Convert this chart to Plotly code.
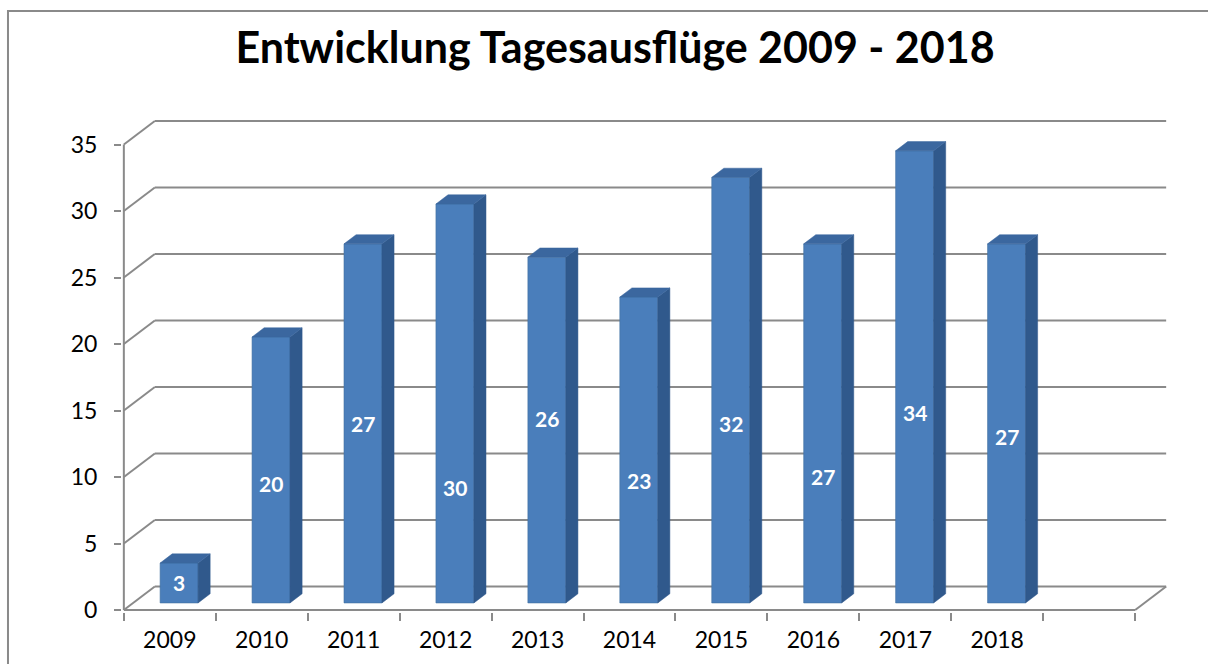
import plotly.graph_objects as go

# ---- data ----
categories = ["2009", "2010", "2011", "2012", "2013", "2014", "2015", "2016", "2017", "2018", ""]
values = [3, 20, 27, 30, 26, 23, 32, 27, 34, 27, None]
# vertical position (in value units above the bar base) where the data labels sit
label_heights = [1.5, 9.0, 13.5, 8.7, 13.9, 9.2, 13.5, 9.5, 14.3, 12.5]
y_ticks = [0, 5, 10, 15, 20, 25, 30, 35]
title_text = "Entwicklung Tagesausflüge 2009 - 2018"

# ---- 3D geometry / style ----
DX = 0.337          # depth offset along x (category units)
DY = 1.77           # depth offset along y (value units)
F1, F2 = 0.30, 0.69  # bar front / back depth fraction
BAR_W = 0.413
GRID = "#8a8a8a"
FRONT = "#4a7ebb"
SIDE = "#30598c"
TOP = "#3b679f"
FONT = "Lato"

n = len(categories)
x_left, x_right = -0.5, n - 0.5
ymax = max(y_ticks)

fig = go.Figure()
shapes = []

# back-wall gridlines with the diagonal "wall" segment
for v in y_ticks:
    shapes.append(dict(type="line", xref="x", yref="y", layer="below",
                       x0=x_left, y0=v, x1=x_left + DX, y1=v + DY,
                       line=dict(color=GRID, width=2)))
    shapes.append(dict(type="line", xref="x", yref="y", layer="below",
                       x0=x_left + DX, y0=v + DY, x1=x_right + DX, y1=v + DY,
                       line=dict(color=GRID, width=2)))
# floor: front edge and right edge
shapes.append(dict(type="line", xref="x", yref="y", layer="below",
                   x0=x_left, y0=0, x1=x_right, y1=0, line=dict(color=GRID, width=2)))
shapes.append(dict(type="line", xref="x", yref="y", layer="below",
                   x0=x_right, y0=0, x1=x_right + DX, y1=DY, line=dict(color=GRID, width=2)))
# front vertical value axis
shapes.append(dict(type="line", xref="x", yref="y", layer="below",
                   x0=x_left, y0=0, x1=x_left, y1=ymax, line=dict(color=GRID, width=2)))
# chart border
shapes.append(dict(type="rect", xref="paper", yref="paper", layer="below",
                   x0=-0.109, y0=-0.3, x1=1.2, y1=1.219,
                   line=dict(color="#8a8a8a", width=2), fillcolor="rgba(0,0,0,0)"))

# side and top faces of the bars
side_x, side_y, top_x, top_y = [], [], [], []
xs, ys = [], []
for i, v in enumerate(values):
    if v is None:
        continue
    xs.append(i)
    ys.append(v)
    xl = i - BAR_W / 2
    xr = i + BAR_W / 2
    side_x += [xr + F1 * DX, xr + F2 * DX, xr + F2 * DX, xr + F1 * DX, xr + F1 * DX, None]
    side_y += [F1 * DY, F2 * DY, v + F2 * DY, v + F1 * DY, F1 * DY, None]
    top_x += [xl + F1 * DX, xr + F1 * DX, xr + F2 * DX, xl + F2 * DX, xl + F1 * DX, None]
    top_y += [v + F1 * DY, v + F1 * DY, v + F2 * DY, v + F2 * DY, v + F1 * DY, None]

fig.add_trace(go.Bar(
    x=xs, y=ys, base=F1 * DY, width=BAR_W, offset=-BAR_W / 2 + F1 * DX,
    marker=dict(color=FRONT, line=dict(color="#41709f", width=0.6)),
    hoverinfo="skip", showlegend=False))
fig.add_trace(go.Scatter(x=side_x, y=side_y, mode="lines", fill="toself",
                         fillcolor=SIDE, line=dict(color=SIDE, width=0.5),
                         hoverinfo="skip", showlegend=False))
fig.add_trace(go.Scatter(x=top_x, y=top_y, mode="lines", fill="toself",
                         fillcolor=TOP, line=dict(color=TOP, width=0.5),
                         hoverinfo="skip", showlegend=False))

annotations = []
for i, v in enumerate(values):
    if v is None:
        continue
    annotations.append(dict(x=i + F1 * DX, y=label_heights[i] + F1 * DY, xref="x", yref="y",
                            text=str(v), showarrow=False,
                            font=dict(family=FONT, size=21, color="white", weight="bold")))

fig.update_layout(
    width=1208, height=664,
    margin=dict(l=122, r=40, t=119, b=52),
    paper_bgcolor="white", plot_bgcolor="white",
    title=dict(text=title_text, x=615 / 1208, xanchor="center", y=1 - 48 / 664, yanchor="middle",
               yref="container", xref="container",
               font=dict(family=FONT, size=43, color="black", weight="bold")),
    shapes=shapes, annotations=annotations,
    xaxis=dict(range=[x_left - 0.02, x_right + DX + 0.02], showgrid=False, zeroline=False,
               showline=False, tickmode="array", tickvals=list(range(n)), ticktext=categories,
               ticks="", ticklabelstandoff=12,
               tickfont=dict(family=FONT, size=23, color="black"),
               minor=dict(ticks="outside", tick0=x_left, dtick=1, ticklen=8,
                          tickcolor=GRID, tickwidth=2, showgrid=False)),
    yaxis=dict(range=[-0.15, ymax + DY + 0.15], showgrid=False, zeroline=False, showline=False,
               tickmode="array", tickvals=y_ticks, ticks="outside", ticklen=7,
               tickcolor=GRID, tickwidth=2, ticklabelstandoff=12,
               tickfont=dict(family=FONT, size=23, color="black")),
)

fig.write_html("out.html", config={"displayModeBar": False},
               post_script="document.body.style.margin='0';document.body.style.overflow='hidden';")
